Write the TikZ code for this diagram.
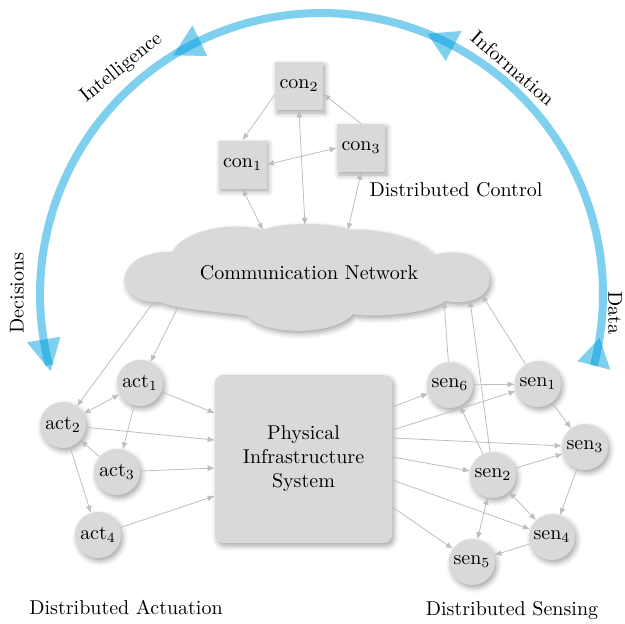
\documentclass[tikz,border=0pt]{standalone}
\usetikzlibrary{arrows.meta,shadows.blur,calc}
\definecolor{nodegray}{RGB}{217,217,217}
\definecolor{edgegray}{RGB}{190,190,190}
\definecolor{arcblue}{RGB}{0,160,222}
\newcommand{\archeadat}[2]{%
  \fill[archead] ({321.5+264.5*cos(#1)},{294.5-264.5*sin(#1)}) --
    ({321.5+298.5*cos(#1)},{294.5-298.5*sin(#1)}) --
    ({321.5+281.5*cos(#2)},{294.5-281.5*sin(#2)}) -- cycle;}
\begin{document}
\begin{tikzpicture}[x=0.5pt,y=-0.5pt,
  every node/.style={font=\normalsize},
  softshadow/.style={blur shadow={shadow xshift=1pt, shadow yshift=-1.5pt, shadow blur radius=2.5pt, shadow opacity=35}},
  ctrlbox/.style={rectangle, fill=nodegray, minimum size=24pt, inner sep=0pt, softshadow},
  devnode/.style={circle, fill=nodegray, minimum size=23pt, inner sep=0pt, softshadow},
  link/.style={draw=edgegray, line width=0.4pt, -{Latex[length=3.5pt,width=3pt]}},
  biline/.style={draw=edgegray, line width=0.4pt, {Latex[length=3.5pt,width=3pt]}-{Latex[length=3.5pt,width=3pt]}},
  arcline/.style={draw=arcblue, draw opacity=0.5, line width=4pt},
  archead/.style={fill=arcblue, fill opacity=0.5}
]
\useasboundingbox (0,0) rectangle (625,623);

% feedback arc
\draw[arcline] plot[domain=-14.6:194.5, samples=120, smooth] ({321.5+281.5*cos(\x)},{294.5-281.5*sin(\x)});
\archeadat{-14.6}{-8.9}
\archeadat{62}{67.9}
\archeadat{115.6}{121.8}
\archeadat{189.2}{195.8}

\node[rotate=39] (lintel) at (121.5,68) {Intelligence};
\node[rotate=-41] (linfo) at (513,68) {Information};
\node[rotate=90] (ldec) at (17,293) {Decisions};
\node[rotate=-90] (ldata) at (615,313) {Data};

% control layer
\node[ctrlbox] (con2) at (299,86) {$\mathrm{con}_2$};
\node[ctrlbox] (con1) at (242.5,164.5) {$\mathrm{con}_1$};
\node[ctrlbox] (con3) at (361,148) {$\mathrm{con}_3$};
\node (dctrl) at (456,190) {Distributed Control};

% network cloud
\fill[nodegray, softshadow] (160,302)
  .. controls (110,305) and (112,250) .. (172,252)
  .. controls (185,228) and (235,222) .. (263,230)
  .. controls (280,222) and (333,222) .. (350,230)
  .. controls (372,228) and (420,236) .. (433,255)
  .. controls (500,238) and (512,312) .. (445,301)
  .. controls (430,314) and (372,318) .. (353,314)
  .. controls (335,336) and (265,336) .. (247,316)
  .. controls (225,312) and (180,310) .. (160,302) -- cycle;
\node (net) at (309,273) {Communication Network};
\coordinate (netc1) at (263,230);
\coordinate (netc2) at (305,225);
\coordinate (netc3) at (348,230);
\coordinate (neta2) at (153,303);
\coordinate (neta1) at (178,307);
\coordinate (nets6) at (444,301);
\coordinate (nets2) at (470,300);
\coordinate (nets1) at (482,295);

% physical system
\node[rectangle, rounded corners=4pt, fill=nodegray, minimum width=88.5pt, minimum height=84pt, align=center, softshadow] (pis) at (303.5,459) {Physical\\Infrastructure\\System};

% actuators
\node[devnode] (act1) at (140,383) {$\mathrm{act}_1$};
\node[devnode] (act2) at (63,425) {$\mathrm{act}_2$};
\node[devnode] (act3) at (117,472) {$\mathrm{act}_3$};
\node[devnode] (act4) at (98,535) {$\mathrm{act}_4$};
\node (dact) at (126,607) {Distributed Actuation};

% sensors
\node[devnode] (sen6) at (450,385) {$\mathrm{sen}_6$};
\node[devnode] (sen1) at (538,384) {$\mathrm{sen}_1$};
\node[devnode] (sen3) at (585,447) {$\mathrm{sen}_3$};
\node[devnode] (sen2) at (493,475) {$\mathrm{sen}_2$};
\node[devnode] (sen4) at (552,537) {$\mathrm{sen}_4$};
\node[devnode] (sen5) at (472,562) {$\mathrm{sen}_5$};
\node (dsen) at (512,610) {Distributed Sensing};

% control edges
\draw[link] ([yshift=-4.5pt]con2.west) -- (con1.north);
\draw[biline] (con1.east) -- (con3.west);
\draw[link] (con3.north) -- ([yshift=-4pt]con2.east);
\draw[biline] (con1.south) -- (netc1);
\draw[biline] (con2.south) -- (netc2);
\draw[biline] (con3.south) -- (netc3);

% network to actuators / sensors to network
\draw[link] (neta2) -- (act2);
\draw[link] (neta1) -- (act1);
\draw[link] (sen6) -- (nets6);
\draw[link] (sen2) -- (nets2);
\draw[link] (sen1) -- (nets1);

% actuator edges
\draw[biline] (act1) -- (act2);
\draw[link] (act1) -- (act3);
\draw[link] (act3) -- (act2);
\draw[link] (act2) -- (act4);
\draw[link] (act1) -- ([yshift=23pt]pis.west);
\draw[link] (act2) -- ([yshift=9.5pt]pis.west);
\draw[link] (act3) -- ([yshift=-4.5pt]pis.west);
\draw[link] (act4) -- ([yshift=-18.5pt]pis.west);

% sensor edges
\draw[link] ([yshift=26pt]pis.east) -- (sen6);
\draw[link] ([yshift=14.5pt]pis.east) -- (sen1);
\draw[link] ([yshift=10.5pt]pis.east) -- (sen3);
\draw[link] ([yshift=1pt]pis.east) -- (sen2);
\draw[link] ([yshift=-10.5pt]pis.east) -- (sen4);
\draw[link] ([yshift=-24pt]pis.east) -- (sen5);
\draw[link] (sen6) -- (sen1);
\draw[link] (sen1) -- (sen3);
\draw[link] (sen2) -- (sen6);
\draw[link] (sen2) -- (sen3);
\draw[link] (sen3) -- (sen4);
\draw[biline] (sen2) -- (sen4);
\draw[biline] (sen2) -- (sen5);
\draw[link] (sen4) -- (sen5);
\end{tikzpicture}
\end{document}
